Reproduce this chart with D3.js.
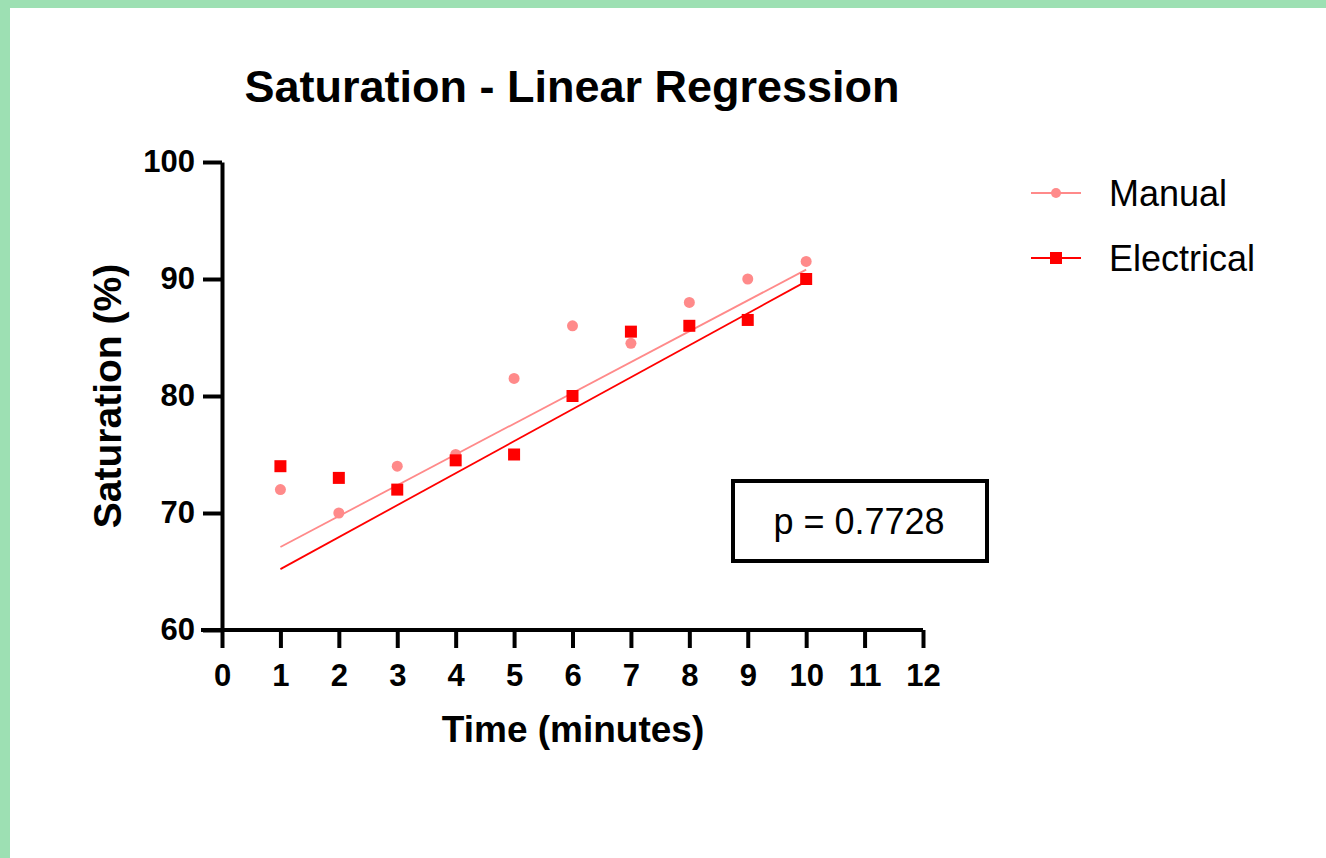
<!DOCTYPE html>
<html lang="en">

<head>
    <meta charset="utf-8">
    <script src="https://cdn.jsdelivr.net/npm/d3@7"></script>
    <style>
        html, body { margin: 0; padding: 0; background: #9de0b3; }
        #my_dataviz { position: absolute; left: 10px; top: 8px; width: 1316px; height: 850px; background: #fff; }
        text { font-family: "Liberation Sans", Arial, sans-serif; }
    </style>
</head>

<body>
    <div id="my_dataviz"></div>
</body>

<script>

    // data
    const times = [1, 2, 3, 4, 5, 6, 7, 8, 9, 10];
    const manual = [72, 70, 74, 75, 81.5, 86, 84.5, 88, 90, 91.5];
    const electrical = [74, 73, 72, 74.5, 75, 80, 85.5, 86, 86.5, 90];
    // regression lines as drawn (start/end at x = 1 and 10)
    const fitX = [1, 10];
    const manualFit = [67.1, 90.8];
    const electricalFit = [65.2, 89.8];
    const xTicks = [0, 1, 2, 3, 4, 5, 6, 7, 8, 9, 10, 11, 12];
    const yTicks = [60, 70, 80, 90, 100];
    const pText = "p = 0.7728";

    const manualColor = "#ff8a8a";
    const elecColor = "#ff0000";

    // svg sits in the white area, offset by the green border
    const ox = 10, oy = 8;
    const svg = d3.select("#my_dataviz")
        .append("svg")
        .attr("width", 1316)
        .attr("height", 850);

    const g = svg.append("g").attr("transform", `translate(${-ox},${-oy})`);

    const x = d3.scaleLinear().domain([0, 12]).range([222, 923]);
    const y = d3.scaleLinear().domain([60, 100]).range([630, 162]);

    // title
    g.append("text")
        .attr("x", 572)
        .attr("y", 102)
        .attr("text-anchor", "middle")
        .style("font-size", "45px")
        .style("font-weight", "bold")
        .text("Saturation - Linear Regression");

    // y axis
    const yAxis = g.append("g")
        .attr("transform", `translate(${x(0)},0)`)
        .call(d3.axisLeft(y).tickValues(yTicks).tickSize(19).tickPadding(8).tickSizeOuter(0));
    yAxis.select(".domain").attr("stroke-width", 4);
    yAxis.selectAll(".tick line").attr("stroke-width", 4);
    yAxis.selectAll(".tick text")
        .style("font-size", "31px")
        .style("font-weight", "bold")
        .attr("fill", "#000");

    // x axis
    const xAxis = g.append("g")
        .attr("transform", `translate(0,${y(60)})`)
        .call(d3.axisBottom(x).tickValues(xTicks).tickSize(18).tickPadding(16).tickSizeOuter(0));
    xAxis.select(".domain").attr("stroke-width", 4)
        .attr("d", `M${x(0) - 21},0H${x(12)}`);
    xAxis.selectAll(".tick line").attr("stroke-width", 4);
    xAxis.selectAll(".tick text")
        .style("font-size", "31px")
        .style("font-weight", "bold")
        .attr("fill", "#000");

    // axis titles
    g.append("text")
        .attr("x", 573)
        .attr("y", 742)
        .attr("text-anchor", "middle")
        .style("font-size", "37px")
        .style("font-weight", "bold")
        .text("Time (minutes)");

    g.append("text")
        .attr("transform", `translate(121,${y(80)}) rotate(-90)`)
        .attr("text-anchor", "middle")
        .style("font-size", "39px")
        .style("font-weight", "bold")
        .text("Saturation (%)");

    // regression lines
    const line = d3.line().x(d => x(d[0])).y(d => y(d[1]));
    g.append("path")
        .datum(fitX.map((v, i) => [v, manualFit[i]]))
        .attr("d", line)
        .attr("fill", "none")
        .attr("stroke", manualColor)
        .attr("stroke-width", 1.8);
    g.append("path")
        .datum(fitX.map((v, i) => [v, electricalFit[i]]))
        .attr("d", line)
        .attr("fill", "none")
        .attr("stroke", elecColor)
        .attr("stroke-width", 1.8);

    // points
    g.selectAll(".manual")
        .data(times.map((t, i) => [t, manual[i]]))
        .enter()
        .append("circle")
        .attr("class", "manual")
        .attr("cx", d => x(d[0]))
        .attr("cy", d => y(d[1]))
        .attr("r", 5.5)
        .attr("fill", manualColor);

    const sq = 12;
    g.selectAll(".elec")
        .data(times.map((t, i) => [t, electrical[i]]))
        .enter()
        .append("rect")
        .attr("class", "elec")
        .attr("x", d => x(d[0]) - sq / 2)
        .attr("y", d => y(d[1]) - sq / 2)
        .attr("width", sq)
        .attr("height", sq)
        .attr("fill", elecColor);

    // p value box
    g.append("rect")
        .attr("x", 733)
        .attr("y", 481)
        .attr("width", 254)
        .attr("height", 80)
        .attr("fill", "#fff")
        .attr("stroke", "#000")
        .attr("stroke-width", 4);
    g.append("text")
        .attr("x", 859)
        .attr("y", 534)
        .attr("text-anchor", "middle")
        .style("font-size", "36px")
        .text(pText);

    // legend
    const legend = [
        { name: "Manual", color: manualColor, shape: "circle", y: 193 },
        { name: "Electrical", color: elecColor, shape: "square", y: 258 }
    ];
    legend.forEach(l => {
        g.append("line")
            .attr("x1", 1031).attr("x2", 1081)
            .attr("y1", l.y).attr("y2", l.y)
            .attr("stroke", l.color)
            .attr("stroke-width", 2);
        if (l.shape === "circle") {
            g.append("circle").attr("cx", 1056).attr("cy", l.y).attr("r", 5).attr("fill", l.color);
        } else {
            g.append("rect").attr("x", 1050).attr("y", l.y - 6).attr("width", 12).attr("height", 12).attr("fill", l.color);
        }
        g.append("text")
            .attr("x", 1109)
            .attr("y", l.y + 13)
            .style("font-size", "36px")
            .text(l.name);
    });

</script>

</html>
